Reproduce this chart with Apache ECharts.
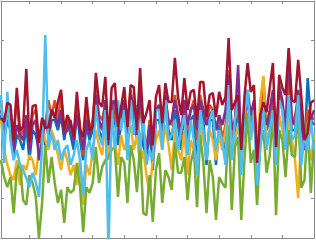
<!DOCTYPE html>
<html><head><meta charset="utf-8">
<script src="https://cdn.jsdelivr.net/npm/echarts@6/dist/echarts.min.js"></script>
<style>html,body{margin:0;padding:0;background:#fff}#c{width:316px;height:240px}</style>
</head><body><div id="c"></div>
<script>
const xTicks = [10,20,30,40,50,60,70,80,90];
const yTicks = [1,2,3,4,5];
const colors = ['#0072BD','#D95319','#EDB120','#7E2F8E','#77AC30','#4DBEEE','#A2142F'];

const blue = [3.11,2.48,2.99,2.73,2.10,2.61,2.48,2.23,2.86,1.97,2.73,2.61,2.23,2.86,2.35,2.48,2.99,
2.99,2.73,3.11,2.48,2.99,2.61,2.23,3.24,2.48,1.97,2.86,2.48,2.73,3.49,2.73,2.48,3.11,
2.23,3.24,2.99,2.35,2.86,3.37,2.48,3.49,3.11,2.48,3.62,2.35,1.97,2.73,1.72,2.99,
2.99,2.48,3.37,2.73,2.48,3.24,2.86,2.23,3.24,2.48,2.99,3.11,1.72,3.37,2.99,1.85,2.99,
2.99,1.85,2.86,2.61,2.23,3.62,2.35,2.73,3.24,1.97,2.86,3.49,2.73,3.24,2.23,2.48,
3.11,2.73,2.99,3.37,2.10,3.62,3.24,2.48,3.49,2.73,2.73,3.24,2.61,2.23,4.05,2.99,2.86];

const orange = [3.49,2.61,3.24,2.86,2.48,3.62,2.48,2.86,2.99,2.35,3.11,3.24,2.23,2.73,2.86,3.49,3.11,
3.49,2.99,3.62,2.61,3.11,2.86,2.48,3.37,2.86,2.10,3.24,2.73,2.99,3.87,3.11,2.99,3.37,
2.48,3.49,3.11,2.73,3.24,3.49,2.86,3.75,3.24,2.73,3.62,2.61,2.23,2.99,2.10,3.24,
3.24,2.86,3.49,2.99,2.86,3.62,3.11,2.48,3.49,2.73,3.24,3.49,2.48,3.62,3.24,2.86,3.37,
3.24,2.73,3.11,2.48,2.86,4.25,2.61,2.99,3.49,2.35,3.11,3.62,2.86,3.37,2.23,2.99,
4.05,2.86,3.11,3.49,2.48,3.75,3.37,2.73,4.00,2.86,3.11,3.49,2.86,2.48,3.24,3.11,2.99];

const yellow = [2.99,2.23,1.85,1.59,1.47,1.97,1.34,1.85,1.72,2.10,1.97,1.59,2.23,2.99,2.48,2.23,2.73,
2.48,2.10,1.72,2.23,1.97,1.59,1.85,1.34,1.97,0.84,1.85,1.59,2.23,2.73,2.35,2.10,2.99,
1.97,2.99,2.48,1.85,2.61,2.23,2.48,2.86,2.23,2.61,1.85,2.23,1.59,1.14,1.97,2.48,
2.73,2.23,2.86,2.35,1.72,2.73,2.23,1.97,2.73,1.59,2.48,2.23,1.85,2.86,2.48,2.10,2.73,
2.48,1.97,2.61,2.23,2.73,3.24,2.23,2.48,2.86,1.97,2.99,3.24,2.48,2.99,2.10,3.49,
4.10,2.48,2.73,2.99,1.97,3.11,2.73,2.23,2.99,2.48,1.97,1.01,2.73,2.23,2.48,1.97,2.61];

const purple = [3.24,2.73,3.37,2.99,2.23,2.86,2.61,2.48,3.11,2.23,2.86,2.99,1.97,2.48,2.99,2.61,3.24,
3.11,2.86,3.24,2.61,2.73,2.99,2.48,3.11,2.73,2.23,2.99,2.61,2.86,3.62,2.99,2.73,3.49,
2.35,3.37,3.49,2.61,3.11,3.49,2.73,3.62,3.37,2.61,3.75,2.73,2.23,2.86,1.97,3.24,
3.37,2.73,3.62,2.86,2.99,3.49,3.11,2.61,3.49,2.86,3.24,3.37,2.73,3.49,3.24,2.86,3.11,
3.24,2.73,3.11,2.86,3.24,4.13,2.73,2.99,4.38,2.23,2.99,3.75,3.11,3.49,1.97,2.73,
3.24,2.86,3.24,3.75,2.23,3.87,3.49,2.73,4.76,2.99,2.86,3.75,2.99,2.23,2.48,2.99,3.24];

const green = [1.97,1.54,1.29,1.54,0.63,1.72,1.90,0.96,0.84,1.59,1.39,1.04,0.00,0.89,2.35,1.39,2.05,
1.39,0.89,1.22,0.38,1.29,1.14,1.22,1.90,1.29,0.15,1.29,1.14,1.39,2.30,1.39,1.80,1.97,
2.05,2.23,2.30,1.04,2.05,1.90,0.89,2.35,1.97,1.16,2.41,0.63,0.58,1.59,0.41,1.72,
2.15,0.89,1.72,1.54,1.22,2.43,1.65,1.65,2.05,0.96,1.90,2.23,0.78,2.61,1.90,0.63,1.97,
1.54,0.46,1.54,1.39,1.27,2.86,0.71,2.30,2.56,0.46,1.97,3.16,1.90,2.23,0.84,2.35,
2.73,1.65,2.10,3.16,0.58,2.73,2.48,1.54,2.73,2.10,2.05,3.29,1.27,1.47,2.91,1.14,2.48];

const lightBlue = [3.62,1.90,3.70,2.48,1.97,2.23,1.85,1.72,1.52,1.29,1.65,1.42,1.04,2.30,5.14,2.30,2.66,
2.23,2.48,1.97,2.23,2.35,1.85,2.10,2.48,1.97,1.09,2.23,2.48,1.97,3.37,2.61,2.35,3.24,
-0.30,3.24,2.23,3.49,2.73,3.24,1.97,3.49,2.61,3.37,2.23,3.11,1.85,2.23,1.97,3.24,
3.24,2.23,3.49,2.48,2.61,2.99,2.23,2.73,3.11,2.10,2.99,2.48,1.59,3.24,2.73,1.97,2.99,
3.24,2.23,2.73,2.48,1.85,3.87,1.97,2.99,3.49,1.59,3.11,3.75,2.48,3.24,1.34,2.23,
3.24,2.23,2.73,3.24,1.85,3.49,3.24,2.23,3.62,2.48,2.61,3.62,1.85,2.61,2.23,2.99,2.23];

const darkRed = [3.04,2.94,3.42,3.37,2.48,3.80,2.73,2.81,4.28,2.43,3.34,3.37,2.41,3.04,2.78,2.81,3.24,
3.04,3.44,3.75,2.73,3.11,2.91,2.56,3.70,2.73,2.56,3.57,2.73,2.81,4.18,3.44,3.32,4.08,
2.48,3.80,3.92,2.81,3.32,3.82,2.81,3.87,3.82,2.73,4.30,2.91,3.16,3.49,2.35,3.57,
3.87,2.91,3.92,3.44,3.44,4.56,3.57,3.11,4.05,3.24,3.70,3.75,2.99,3.95,3.95,3.06,3.62,
3.67,3.06,3.70,3.37,3.57,5.06,3.24,3.44,3.62,2.23,3.57,4.43,3.70,3.87,1.90,3.11,
3.44,3.19,3.80,4.43,2.30,4.13,3.80,3.62,4.81,3.49,3.44,4.51,3.57,2.48,2.66,3.42,3.49];

const allSeries = [blue, orange, yellow, purple, green, lightBlue, darkRed];

const axisCol = '#8a8a8a';
function xAx(pos){return {type:'value',position:pos,min:1,max:100,
  axisLine:{show:true,onZero:false,lineStyle:{color:axisCol,width:1}},
  axisTick:{show:true,inside:true,length:3,customValues:xTicks,lineStyle:{color:axisCol}},
  axisLabel:{show:false},splitLine:{show:false}};}
function yAx(pos){return {type:'value',position:pos,min:0,max:6,interval:1,
  axisLine:{show:true,onZero:false,lineStyle:{color:axisCol,width:1}},
  axisTick:{show:true,inside:true,length:3,customValues:yTicks,lineStyle:{color:axisCol}},
  axisLabel:{show:false},splitLine:{show:false}};}

const chart = echarts.init(document.getElementById('c'), null, {renderer:'canvas'});
chart.setOption({
  animation:false,
  grid:{left:1,right:2,top:1,bottom:2,containLabel:false},
  xAxis:[xAx('bottom'),xAx('top')],
  yAxis:[yAx('left'),yAx('right')],
  series: allSeries.map((arr,k)=>({
    type:'line',xAxisIndex:0,yAxisIndex:0,showSymbol:false,clip:true,
    data:arr.map((v,i)=>[i+1,v]),
    lineStyle:{color:colors[k],width:2.5},itemStyle:{color:colors[k]},z:2+k
  }))
});
</script></body></html>
